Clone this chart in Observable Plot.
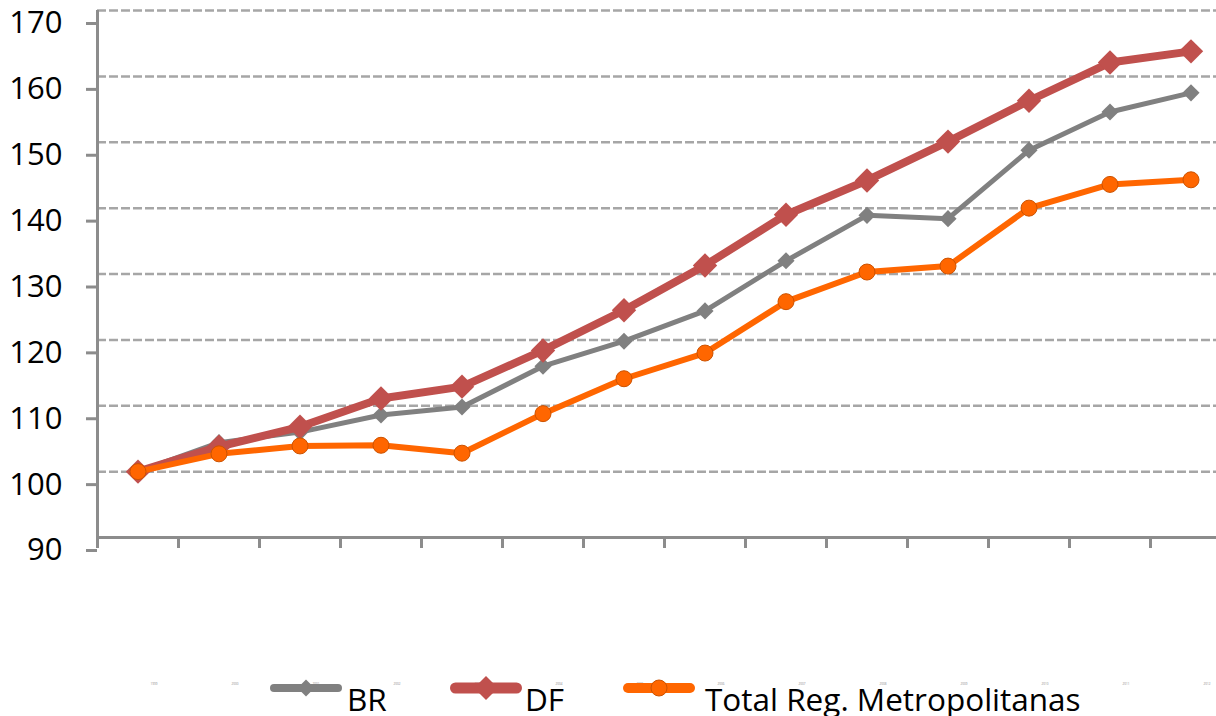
<!DOCTYPE html>
<html><head><meta charset="utf-8">
<script src="https://cdn.jsdelivr.net/npm/d3@7"></script>
<script src="https://cdn.jsdelivr.net/npm/@observablehq/plot@0.6"></script>
<style>
body{margin:0;background:#fff;font-family:"Open Sans",sans-serif;}
#wrap{position:relative;width:1216px;height:716px;overflow:hidden;background:#fff;}
#legend{position:absolute;left:0;top:560px;width:1216px;height:156px;}
.lt{position:absolute;font-size:31.5px;line-height:0.7;color:#000;white-space:nowrap;}
.yr{position:absolute;font-size:3px;line-height:1;color:#888;}
</style></head><body><div id="wrap"></div>
<script>
const years = ["1999","2000","2001","2002","2003","2004","2005","2006","2007","2008","2009","2010","2011","2012"];
const br    = [100, 104.4, 106.0, 108.6, 109.8, 116.0, 119.8, 124.4, 132.0, 138.9, 138.4, 148.8, 154.6, 157.5];
const df    = [100, 103.8, 106.8, 111.1, 112.9, 118.4, 124.5, 131.3, 139.0, 144.2, 150.1, 156.3, 162.1, 163.8];
const metro = [100, 102.7, 103.9, 104.0, 102.8, 108.8, 114.1, 118.0, 125.8, 130.3, 131.2, 140.0, 143.6, 144.3];
const seriesNames = ["BR", "DF", "Total Reg. Metropolitanas"];
const seriesColors = ["#808080", "#c0504d", "#ff6600"];
const yTicks = [90, 100, 110, 120, 130, 140, 150, 160, 170];

const rows = years.map((year, i) => ({i, year, br: br[i], df: df[i], metro: metro[i]}));
const bounds = years.map((_, i) => i - 0.5).concat([years.length - 0.5]);
const axisColor = "#8c8c8c";

const chart = Plot.plot({
  width: 1216, height: 560,
  marginLeft: 97, marginRight: 0, marginTop: 10, marginBottom: 23,
  x: {type: "linear", domain: [-0.5, years.length - 0.5], range: [97, 1231]},
  y: {domain: [90, 170], range: [537, 10]},
  style: {fontFamily: "Open Sans", fontSize: "31px", color: "#000", background: "transparent", overflow: "visible"},
  marks: [
    Plot.gridY(yTicks.filter(v => v > 90), {stroke: "#a6a6a6", strokeOpacity: 1, strokeWidth: 2.5, strokeDasharray: "9,3"}),
    Plot.axisY({ticks: yTicks, tickSize: 11, tickPadding: 24, stroke: axisColor, strokeWidth: 3, dy: 13, fontSize: 31, label: null, tickFormat: d => String(d)}),
    Plot.axisX({ticks: bounds, tickSize: 11, tickFormat: () => "", stroke: axisColor, strokeWidth: 3, label: null}),
    Plot.ruleX([-0.5], {stroke: axisColor, strokeWidth: 3}),
    Plot.ruleY([90], {stroke: axisColor, strokeWidth: 3}),
    Plot.line(rows, {x: "i", y: "br", stroke: seriesColors[0], strokeWidth: 5}),
    Plot.dot(rows, {x: "i", y: "br", symbol: "diamond2", r: 7.7, fill: seriesColors[0], stroke: "none"}),
    Plot.line(rows, {x: "i", y: "df", stroke: seriesColors[1], strokeWidth: 8}),
    Plot.dot(rows, {x: "i", y: "df", symbol: "diamond2", r: 11, fill: seriesColors[1], stroke: "none"}),
    Plot.line(rows, {x: "i", y: "metro", stroke: seriesColors[2], strokeWidth: 6}),
    Plot.dot(rows, {x: "i", y: "metro", r: 8, fill: seriesColors[2], stroke: "#cc5200", strokeWidth: 1})
  ]
});

const wrap = document.getElementById("wrap");
wrap.appendChild(chart);

const legend = document.createElement("div");
legend.id = "legend";
wrap.appendChild(legend);

// tiny category labels (as in the reference)
const xs = chart.scale("x");
years.forEach((y, i) => {
  const s = document.createElement("span");
  s.className = "yr";
  s.textContent = y;
  s.style.left = (xs.apply(i) + 13) + "px";
  s.style.top = (683 - 560) + "px";
  legend.appendChild(s);
});

const items = [
  {name: seriesNames[0], color: seriesColors[0], sw: 8, left: 270, text: 347, sym: "diamond", size: 17},
  {name: seriesNames[1], color: seriesColors[1], sw: 11, left: 450, text: 525, sym: "diamond", size: 24},
  {name: seriesNames[2], color: seriesColors[2], sw: 10, left: 623, text: 705, sym: "circle", size: 16}
];
items.forEach(it => {
  const svg = d3.create("svg").attr("width", 84).attr("height", 40)
    .style("position", "absolute").style("left", (it.left - 6) + "px").style("top", (688 - 560 - 20) + "px");
  svg.append("line").attr("x1", 6 + it.sw / 2).attr("x2", 78 - it.sw / 2).attr("y1", 20).attr("y2", 20)
    .attr("stroke", it.color).attr("stroke-width", it.sw).attr("stroke-linecap", "round");
  const cx = 42;
  if (it.sym === "diamond") {
    const h = it.size / 2;
    svg.append("path").attr("d", `M${cx},${20 - h}L${cx + h},20L${cx},${20 + h}L${cx - h},20Z`).attr("fill", it.color);
  } else {
    svg.append("circle").attr("cx", cx).attr("cy", 20).attr("r", it.size / 2).attr("fill", it.color).attr("stroke", "#cc5200");
  }
  legend.appendChild(svg.node());
  const t = document.createElement("div");
  t.className = "lt";
  t.textContent = it.name;
  t.style.left = it.text + "px";
  t.style.top = (688 - 560) + "px";
  legend.appendChild(t);
});
</script></body></html>
